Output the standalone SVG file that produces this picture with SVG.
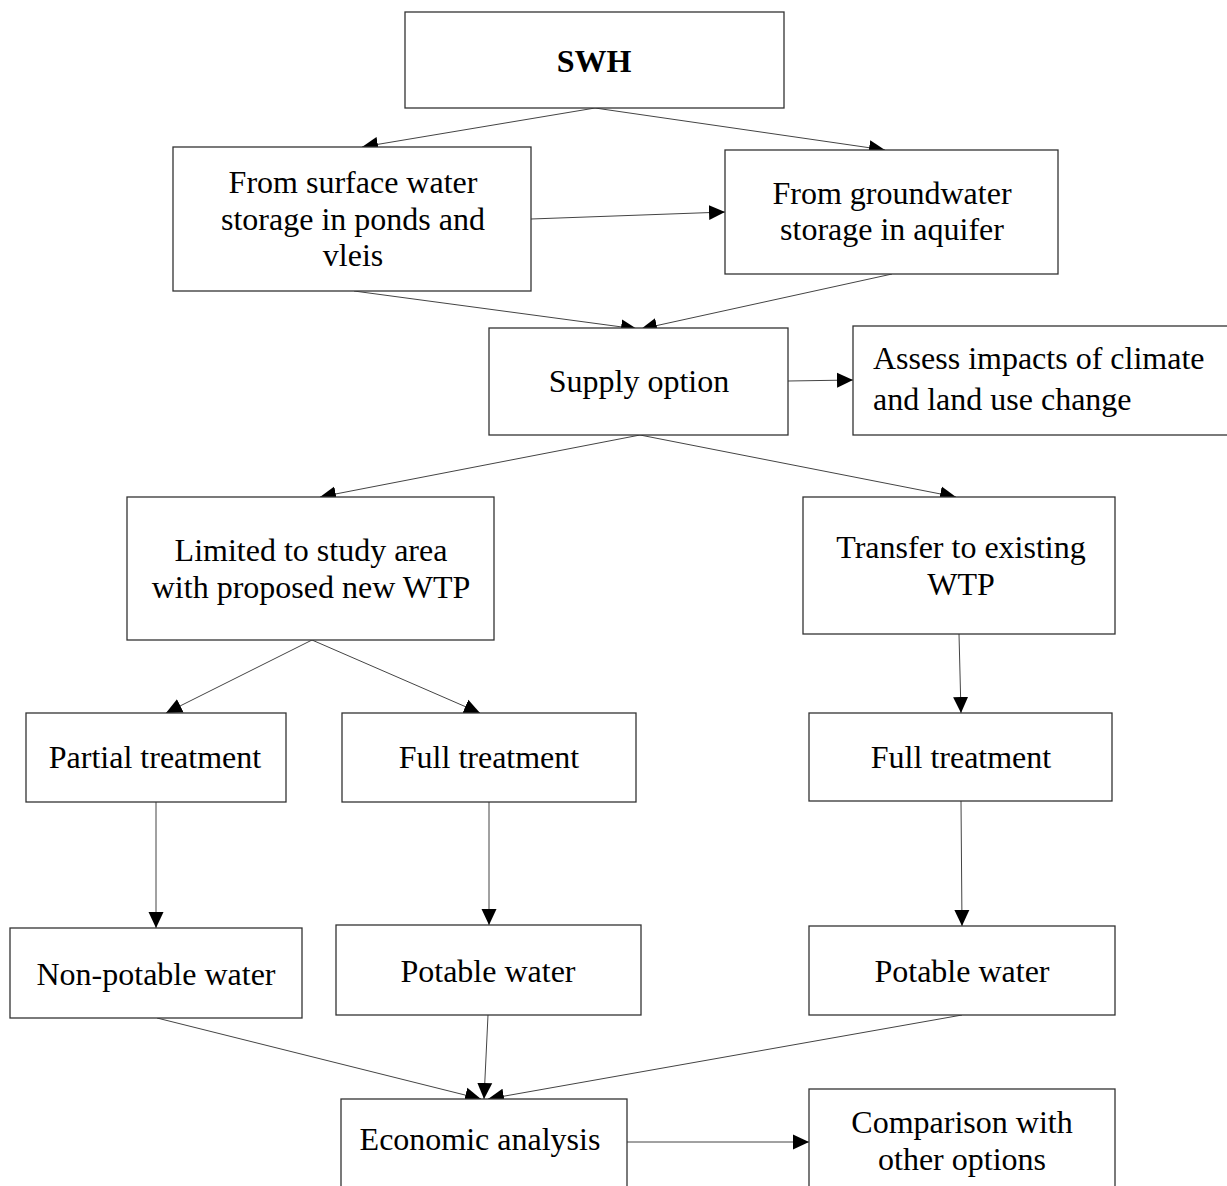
<svg xmlns="http://www.w3.org/2000/svg" width="1227" height="1186" viewBox="0 0 1227 1186">
<defs>
<marker id="ah" markerUnits="userSpaceOnUse" markerWidth="17" markerHeight="16" refX="16" refY="8" orient="auto">
<path d="M0,0.5 L16,8 L0,15.5 z" fill="#000"/>
</marker>
<style>
.box{fill:#fff;stroke:#333;stroke-width:1.3}
.t{font-family:"Liberation Serif","Times New Roman",serif;font-size:32px;fill:#000;text-anchor:middle}
.b{font-weight:bold}
.l{text-anchor:start}
.c{stroke:#444;stroke-width:1;fill:none;marker-end:url(#ah)}
</style>
</defs>
<rect width="1227" height="1186" fill="#fff"/>
<g id="connectors">
<line class="c" x1="595" y1="108" x2="362" y2="147"/>
<line class="c" x1="595" y1="108" x2="885" y2="150"/>
<line class="c" x1="531" y1="219" x2="725" y2="212"/>
<line class="c" x1="354" y1="291" x2="637" y2="329"/>
<line class="c" x1="892" y1="274" x2="641" y2="329"/>
<line class="c" x1="788" y1="381" x2="853" y2="380"/>
<line class="c" x1="640" y1="435" x2="320" y2="497"/>
<line class="c" x1="640" y1="435" x2="956" y2="497"/>
<line class="c" x1="312" y1="640" x2="166" y2="713"/>
<line class="c" x1="312" y1="640" x2="480" y2="713"/>
<line class="c" x1="959" y1="634" x2="961" y2="713"/>
<line class="c" x1="156" y1="802" x2="156" y2="928"/>
<line class="c" x1="489" y1="802" x2="489" y2="925"/>
<line class="c" x1="961" y1="801" x2="962" y2="926"/>
<line class="c" x1="157" y1="1018" x2="481" y2="1099"/>
<line class="c" x1="488" y1="1015" x2="484" y2="1099"/>
<line class="c" x1="962" y1="1015" x2="488" y2="1099"/>
<line class="c" x1="627" y1="1142" x2="809" y2="1142"/>
</g>
<g id="swh">
<rect class="box" x="405" y="12" width="379" height="96"/>
<text class="t b" x="594" y="72">SWH</text>
</g>
<g id="surface">
<rect class="box" x="173" y="147" width="358" height="144"/>
<text class="t" x="353" y="193">From surface water</text>
<text class="t" x="353" y="230">storage in ponds and</text>
<text class="t" x="353" y="266">vleis</text>
</g>
<g id="groundwater">
<rect class="box" x="725" y="150" width="333" height="124"/>
<text class="t" x="892" y="204">From groundwater</text>
<text class="t" x="892" y="240">storage in aquifer</text>
</g>
<g id="supply">
<rect class="box" x="489" y="328" width="299" height="107"/>
<text class="t" x="639" y="392">Supply option</text>
</g>
<g id="assess">
<rect class="box" x="853" y="326" width="380" height="109"/>
<text class="t l" x="873" y="369">Assess impacts of climate</text>
<text class="t l" x="873" y="410">and land use change</text>
</g>
<g id="limited">
<rect class="box" x="127" y="497" width="367" height="143"/>
<text class="t" x="311" y="561">Limited to study area</text>
<text class="t" x="311" y="598">with proposed new WTP</text>
</g>
<g id="transfer">
<rect class="box" x="803" y="497" width="312" height="137"/>
<text class="t" x="961" y="558">Transfer to existing</text>
<text class="t" x="961" y="595">WTP</text>
</g>
<g id="partial">
<rect class="box" x="26" y="713" width="260" height="89"/>
<text class="t" x="155" y="768">Partial treatment</text>
</g>
<g id="full1">
<rect class="box" x="342" y="713" width="294" height="89"/>
<text class="t" x="489" y="768">Full treatment</text>
</g>
<g id="full2">
<rect class="box" x="809" y="713" width="303" height="88"/>
<text class="t" x="961" y="768">Full treatment</text>
</g>
<g id="nonpotable">
<rect class="box" x="10" y="928" width="292" height="90"/>
<text class="t" x="156" y="985">Non-potable water</text>
</g>
<g id="potable1">
<rect class="box" x="336" y="925" width="305" height="90"/>
<text class="t" x="488" y="982">Potable water</text>
</g>
<g id="potable2">
<rect class="box" x="809" y="926" width="306" height="89"/>
<text class="t" x="962" y="982">Potable water</text>
</g>
<g id="economic">
<rect class="box" x="341" y="1099" width="286" height="100"/>
<text class="t" x="480" y="1150">Economic analysis</text>
</g>
<g id="comparison">
<rect class="box" x="809" y="1089" width="306" height="110"/>
<text class="t" x="962" y="1133">Comparison with</text>
<text class="t" x="962" y="1170">other options</text>
</g>
</svg>
